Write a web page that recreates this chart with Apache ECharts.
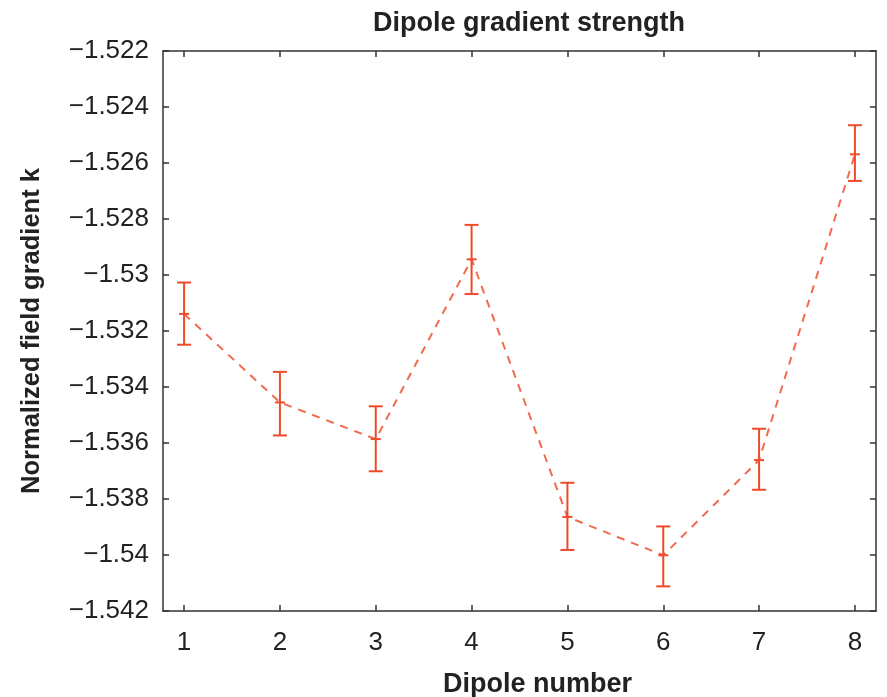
<!DOCTYPE html>
<html>
<head>
<meta charset="utf-8">
<script src="https://cdn.jsdelivr.net/npm/echarts@6/dist/echarts.min.js"></script>
<style>html,body{margin:0;padding:0;background:#fff;}#c{width:887px;height:697px;}</style>
</head>
<body>
<div id="c"></div>
<script>
const dipoles = [1, 2, 3, 4, 5, 6, 7, 8];
const gradientK = [-1.53139, -1.53455, -1.53586, -1.52944, -1.53864, -1.54001, -1.53661, -1.52569];
const errLow = [-1.53249, -1.53573, -1.53701, -1.53068, -1.53982, -1.54112, -1.53767, -1.52664];
const errHigh = [-1.53027, -1.53346, -1.53469, -1.52821, -1.53742, -1.53898, -1.53549, -1.52465];
const yTicks = [-1.542, -1.54, -1.538, -1.536, -1.534, -1.532, -1.53, -1.528, -1.526, -1.524, -1.522];

const red = '#ee4a2a';
const lineRed = '#f26a4e';
const axisColor = '#333';
const textColor = '#222';
const fontFam = '"Liberation Sans", Arial, sans-serif';

function fmt(v) {
  const s = String(parseFloat(Number(v).toFixed(3)));
  return s.replace('-', '\u2212');
}

const chart = echarts.init(document.getElementById('c'), null, {renderer: 'canvas'});

const xCommon = {
  type: 'value', min: 0.78, max: 8.22,
  splitLine: {show: false},
  axisLine: {show: true, onZero: false, lineStyle: {color: axisColor, width: 1.5}},
  axisTick: {show: true, inside: true, length: 6, customValues: dipoles, lineStyle: {color: axisColor, width: 1.5}}
};
const yCommon = {
  type: 'value', min: -1.542, max: -1.522,
  splitLine: {show: false},
  axisLine: {show: true, onZero: false, lineStyle: {color: axisColor, width: 1.5}},
  axisTick: {show: true, inside: true, length: 6, customValues: yTicks, lineStyle: {color: axisColor, width: 1.5}}
};

const option = {
  backgroundColor: '#fff',
  animation: false,
  title: {
    text: 'Dipole gradient strength',
    left: 524, top: 5, textAlign: 'center',
    textStyle: {fontFamily: fontFam, fontWeight: 'bold', fontSize: 27, color: textColor}
  },
  grid: {left: 163, right: 11, top: 51, bottom: 86, containLabel: false, outerBoundsMode: 'none'},
  xAxis: [
    Object.assign({}, xCommon, {
      position: 'bottom',
      name: 'Dipole number', nameLocation: 'middle', nameGap: 60,
      nameTextStyle: {fontFamily: fontFam, fontWeight: 'bold', fontSize: 27, color: textColor, padding: [0, 0, 0, 36]},
      axisLabel: {show: true, customValues: dipoles, margin: 19, fontFamily: fontFam, fontSize: 26, color: textColor}
    }),
    Object.assign({}, xCommon, {position: 'top', axisLabel: {show: false}})
  ],
  yAxis: [
    Object.assign({}, yCommon, {
      position: 'left',
      name: 'Normalized field gradient k', nameLocation: 'middle', nameGap: 118, nameRotate: 90,
      nameTextStyle: {fontFamily: fontFam, fontWeight: 'bold', fontSize: 25.5, color: textColor},
      axisLabel: {show: true, customValues: yTicks, margin: 14, fontFamily: fontFam, fontSize: 26, color: textColor, formatter: fmt}
    }),
    Object.assign({}, yCommon, {position: 'right', axisLabel: {show: false}})
  ],
  series: [
    {
      type: 'line',
      xAxisIndex: 0, yAxisIndex: 0,
      data: dipoles.map((d, i) => [d, gradientK[i]]),
      symbol: 'none',
      lineStyle: {color: lineRed, width: 2, type: [8, 7]},
      z: 2
    },
    {
      type: 'custom',
      xAxisIndex: 0, yAxisIndex: 0,
      data: dipoles.map((d, i) => [d, errLow[i], errHigh[i], gradientK[i]]),
      renderItem: function (params, api) {
        const x = api.value(0);
        const lo = api.coord([x, api.value(1)]);
        const hi = api.coord([x, api.value(2)]);
        const mid = api.coord([x, api.value(3)]);
        const hw = 7, mw = 5;
        const style = {stroke: red, lineWidth: 2, fill: null};
        return {
          type: 'group',
          children: [
            {type: 'line', shape: {x1: lo[0], y1: lo[1], x2: hi[0], y2: hi[1]}, style: style},
            {type: 'line', shape: {x1: lo[0] - hw, y1: lo[1], x2: lo[0] + hw, y2: lo[1]}, style: style},
            {type: 'line', shape: {x1: hi[0] - hw, y1: hi[1], x2: hi[0] + hw, y2: hi[1]}, style: style},
            {type: 'line', shape: {x1: mid[0] - mw, y1: mid[1], x2: mid[0] + mw, y2: mid[1]}, style: style}
          ]
        };
      },
      z: 3
    }
  ]
};
chart.setOption(option);
</script>
</body>
</html>
